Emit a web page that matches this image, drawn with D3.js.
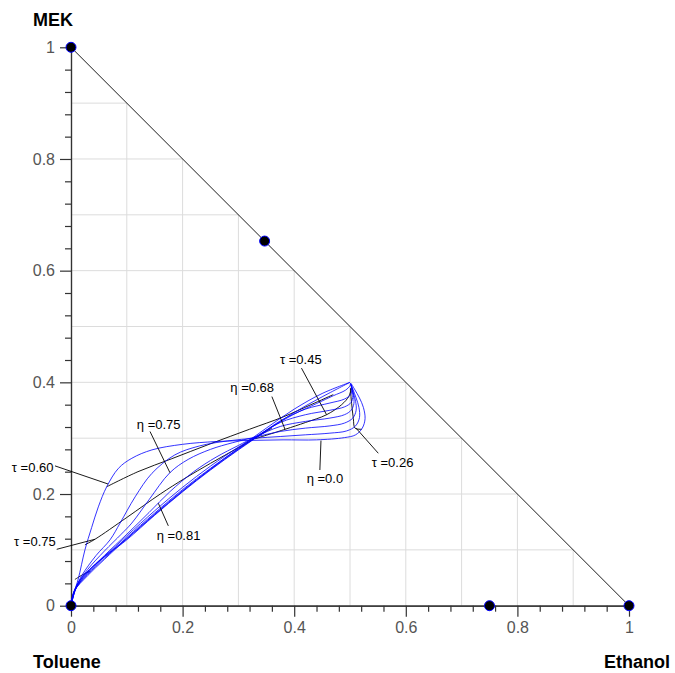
<!DOCTYPE html>
<html><head><meta charset="utf-8">
<script src="https://cdn.jsdelivr.net/npm/d3@7"></script>
<style>body{margin:0;background:#fff}svg{display:block}</style>
</head><body>
<script>
// ---------- DATA ----------
const axisTitles = ["MEK", "Toluene", "Ethanol"];
const majorTicks = [0, 0.2, 0.4, 0.6, 0.8, 1];
const minorTicks = [0.04,0.08,0.12,0.16,0.24,0.28,0.32,0.36,0.44,0.48,0.52,0.56,0.64,0.68,0.72,0.76,0.84,0.88,0.92,0.96];
const gridValues = [0.1,0.2,0.3,0.4,0.5,0.6,0.7,0.8,0.9];

// composition markers [Ethanol, MEK]
const markerPoints = [[0,0],[0,1],[0.347,0.653],[0.75,0],[1,0]];

// trajectories, one per eta (origin -> pinch point)
const etaValues = [0.0, 0.68, 0.75, 0.77, 0.79, 0.80, 0.805, 0.81, 0.81];
const curveEta000 = [[0,0],[0.005,0.022],[0.013,0.048],[0.025,0.1],[0.037,0.14],[0.049,0.177],[0.064,0.213],[0.085,0.246],[0.109,0.264],[0.145,0.279],[0.2,0.289],[0.26,0.294],[0.32,0.296],[0.38,0.297],[0.44,0.297],[0.49,0.301],[0.51,0.306],[0.522,0.318],[0.527,0.335],[0.524,0.355],[0.517,0.372],[0.508,0.388],[0.502,0.398]];
const curveEta068 = [[0,0],[0.008,0.03],[0.02,0.055],[0.045,0.09],[0.07,0.118],[0.088,0.148],[0.115,0.195],[0.145,0.237],[0.186,0.27],[0.23,0.286],[0.28,0.295],[0.33,0.3],[0.375,0.303],[0.42,0.306],[0.464,0.309],[0.494,0.313],[0.51,0.322],[0.517,0.337],[0.516,0.355],[0.511,0.372],[0.505,0.388],[0.501,0.398]];
const curveEta075 = [[0,0],[0.01,0.035],[0.03,0.065],[0.06,0.098],[0.09,0.128],[0.109,0.148],[0.14,0.19],[0.177,0.238],[0.21,0.262],[0.25,0.28],[0.29,0.292],[0.33,0.302],[0.375,0.312],[0.42,0.318],[0.464,0.322],[0.49,0.327],[0.505,0.336],[0.511,0.35],[0.51,0.366],[0.506,0.381],[0.502,0.396]];
const curveEta077 = [[0,0],[0.01,0.033],[0.03,0.06],[0.06,0.09],[0.1,0.128],[0.14,0.167],[0.177,0.204],[0.22,0.24],[0.26,0.266],[0.3,0.287],[0.33,0.302],[0.375,0.321],[0.42,0.33],[0.464,0.336],[0.49,0.342],[0.502,0.35],[0.507,0.362],[0.506,0.377],[0.502,0.395]];
const curveEta079 = [[0,0],[0.008,0.03],[0.03,0.058],[0.06,0.088],[0.1,0.125],[0.15,0.17],[0.2,0.212],[0.25,0.25],[0.3,0.284],[0.33,0.302],[0.375,0.328],[0.42,0.342],[0.464,0.35],[0.49,0.356],[0.502,0.364],[0.505,0.376],[0.502,0.395]];
const curveEta080 = [[0,0],[0.007,0.028],[0.03,0.056],[0.06,0.085],[0.1,0.122],[0.15,0.166],[0.2,0.208],[0.25,0.246],[0.3,0.281],[0.33,0.3],[0.375,0.331],[0.42,0.352],[0.464,0.363],[0.49,0.37],[0.501,0.378],[0.503,0.388],[0.501,0.398]];
const curveEta0805 = [[0,0],[0.006,0.026],[0.03,0.054],[0.06,0.083],[0.1,0.12],[0.15,0.164],[0.2,0.206],[0.25,0.244],[0.3,0.28],[0.35,0.314],[0.4,0.343],[0.44,0.362],[0.47,0.376],[0.492,0.386],[0.5,0.394],[0.501,0.398]];
const curveEta081a = [[0,0],[0.004,0.022],[0.016,0.046],[0.04,0.071],[0.07,0.095],[0.1,0.118],[0.15,0.162],[0.2,0.204],[0.25,0.243],[0.3,0.279],[0.35,0.313],[0.4,0.346],[0.45,0.374],[0.5,0.4]];
const curveEta081b = [[0,0],[0.005,0.024],[0.02,0.05],[0.05,0.08],[0.1,0.12],[0.15,0.163],[0.2,0.205],[0.25,0.245],[0.3,0.282],[0.35,0.318],[0.4,0.352],[0.45,0.38],[0.5,0.4]];

// lines of constant tau
const tauLine026 = [[0.521,0.316],[0.509,0.318],[0.506,0.335],[0.504,0.352],[0.502,0.372],[0.501,0.39]];
const tauLine045 = [[0.33,0.299],[0.384,0.316],[0.42,0.328],[0.458,0.342],[0.485,0.36],[0.498,0.375],[0.502,0.388]];
const tauLine060 = [[0.064,0.213],[0.12,0.24],[0.18,0.263],[0.25,0.29],[0.32,0.316],[0.38,0.338],[0.43,0.36],[0.47,0.378]];
const tauLine075 = [[0.025,0.109],[0.043,0.119],[0.1,0.158],[0.16,0.2],[0.204,0.228],[0.25,0.255],[0.3,0.283],[0.36,0.318]];
const tauLine090 = [[0.007,0.047],[0.02,0.055],[0.034,0.062]];

// annotation texts with their anchor (text start) and leader line ends, in data units
const labelTexts = ["τ =0.45","η =0.68","η =0.75","τ =0.60","τ =0.75","η =0.81","η =0.0","τ =0.26"];
const labelAnchors = [[0.3746,0.432],[0.2855,0.382],[0.118,0.317],[-0.106,0.239],[-0.102,0.107],[0.1536,0.117],[0.4224,0.219],[0.539,0.248]];
const leaderStarts = [[0.413,0.4255],[0.36,0.3745],[0.1416,0.312],[-0.0287,0.2504],[-0.0256,0.101],[0.1744,0.143],[0.446,0.243],[0.5507,0.273]];
const leaderEnds = [[0.458,0.342],[0.3835,0.316],[0.1774,0.238],[0.0663,0.218],[0.043,0.119],[0.1565,0.1835],[0.448,0.2957],[0.5108,0.318]];

// ---------- CHART ----------
const W = 675, H = 673;
const FONT = "'Liberation Sans', Arial, sans-serif";
const svg = d3.select("body").append("svg").attr("width", W).attr("height", H)
  .style("font-family", FONT);
const x = d3.scaleLinear().domain([0, 1]).range([71, 629]);
const y = d3.scaleLinear().domain([0, 1]).range([605.7, 47.3]);

// grid clipped to triangle
const grid = svg.append("g").attr("stroke", "#dcdcdc").attr("stroke-width", 1);
grid.selectAll(".gv").data(gridValues).join("line")
  .attr("x1", d => x(d)).attr("x2", d => x(d)).attr("y1", y(0)).attr("y2", d => y(1 - d));
grid.selectAll(".gh").data(gridValues).join("line")
  .attr("x1", x(0)).attr("x2", d => x(1 - d)).attr("y1", d => y(d)).attr("y2", d => y(d));

// axes
const fmt = d => d === 0 ? "0" : d === 1 ? "1" : d3.format(".1f")(d);
const xAxis = svg.append("g").attr("transform", `translate(0,${y(0)})`)
  .call(d3.axisBottom(x).tickValues(majorTicks).tickFormat(fmt).tickSize(11).tickPadding(5).tickSizeOuter(0));
const xMinor = svg.append("g").attr("transform", `translate(0,${y(0)})`)
  .call(d3.axisBottom(x).tickValues(minorTicks).tickFormat("").tickSize(6).tickSizeOuter(0));
const yAxis = svg.append("g").attr("transform", `translate(${x(0)},0)`)
  .call(d3.axisLeft(y).tickValues(majorTicks).tickFormat(fmt).tickSize(11).tickPadding(5).tickSizeOuter(0));
const yMinor = svg.append("g").attr("transform", `translate(${x(0)},0)`)
  .call(d3.axisLeft(y).tickValues(minorTicks).tickFormat("").tickSize(6).tickSizeOuter(0));
[xAxis, xMinor, yAxis, yMinor].forEach(g => {
  g.attr("font-size", null).attr("font-family", null);
  g.select(".domain").attr("stroke", "#333").attr("stroke-width", 1.2);
  g.selectAll(".tick line").attr("stroke", "#333").attr("stroke-width", 1.2);
  g.selectAll(".tick text").attr("fill", "#555").style("font-size", "16px").style("font-family", FONT);
});

// hypotenuse
svg.append("line").attr("x1", x(0)).attr("y1", y(1)).attr("x2", x(1)).attr("y2", y(0))
  .attr("stroke", "#000").attr("stroke-width", 0.9);

const line = d3.line().x(d => x(d[0])).y(d => y(d[1])).curve(d3.curveCatmullRom.alpha(0.5));

// tau lines
const tauLines = [tauLine026, tauLine045, tauLine060, tauLine075, tauLine090];
svg.append("g").selectAll("path").data(tauLines).join("path")
  .attr("d", line).attr("fill", "none").attr("stroke", "#000").attr("stroke-width", 0.9);

// eta curves
const etaCurves = [curveEta000, curveEta068, curveEta075, curveEta077, curveEta079, curveEta080, curveEta0805, curveEta081a, curveEta081b];
svg.append("g").selectAll("path").data(etaCurves).join("path")
  .attr("d", line).attr("fill", "none").attr("stroke", "#0000ff").attr("stroke-width", 0.8);

// leaders and labels
const ann = svg.append("g");
ann.selectAll("line").data(labelTexts).join("line")
  .attr("x1", (d, i) => x(leaderStarts[i][0])).attr("y1", (d, i) => y(leaderStarts[i][1]))
  .attr("x2", (d, i) => x(leaderEnds[i][0])).attr("y2", (d, i) => y(leaderEnds[i][1]))
  .attr("stroke", "#000").attr("stroke-width", 0.9);
ann.selectAll("text").data(labelTexts).join("text")
  .attr("x", (d, i) => x(labelAnchors[i][0])).attr("y", (d, i) => y(labelAnchors[i][1]))
  .style("font-size", "13px").attr("fill", "#000").text(d => d);

// markers
svg.append("g").selectAll("circle").data(markerPoints).join("circle")
  .attr("cx", d => x(d[0])).attr("cy", d => y(d[1])).attr("r", 5)
  .attr("fill", "#000").attr("stroke", "#0000ff").attr("stroke-width", 1);

// axis titles
const titles = svg.append("g").style("font-size", "18px").style("font-weight", "bold").attr("fill", "#000");
titles.append("text").attr("x", 33).attr("y", 26).text(axisTitles[0]);
titles.append("text").attr("x", 33).attr("y", 668).text(axisTitles[1]);
titles.append("text").attr("x", 670).attr("y", 668).attr("text-anchor", "end").text(axisTitles[2]);
</script>
</body></html>
